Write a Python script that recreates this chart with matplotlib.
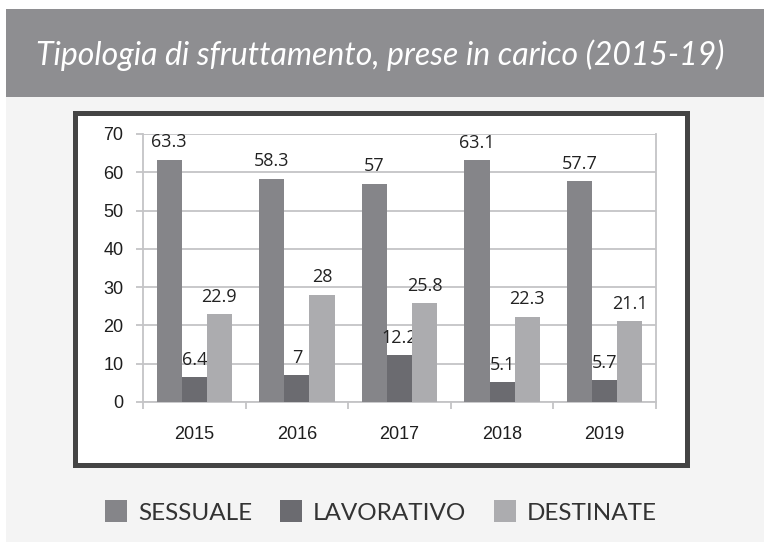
import numpy as np
import matplotlib.pyplot as plt
from matplotlib.patches import Rectangle
from matplotlib.ticker import FixedLocator

# --- Data ---
years = ['2015', '2016', '2017', '2018', '2019']
sessuale = [63.3, 58.3, 57, 63.1, 57.7]
lavorativo = [6.4, 7, 12.2, 5.1, 5.7]
destinate = [22.9, 28, 25.8, 22.3, 21.1]
series_names = ['SESSUALE', 'LAVORATIVO', 'DESTINATE']
series_colors = ['#858589', '#6b6b70', '#acacaf']

W, H = 764, 542


def fx(px):
    return px / W


def fy(py):
    # pixel row from top -> figure fraction from bottom
    return 1 - py / H


fig = plt.figure(figsize=(W / 100, H / 100), dpi=100)
fig.patch.set_facecolor('white')

# --- Background pieces ---
fig.patches.append(Rectangle((fx(6), 0), 1, fy(9), transform=fig.transFigure,
                             facecolor='#f4f4f4', edgecolor='none', zorder=-3))
fig.patches.append(Rectangle((fx(6), fy(97)), 1, fy(9) - fy(97), transform=fig.transFigure,
                             facecolor='#8e8e91', edgecolor='none', zorder=-2))
fig.text(fx(380), fy(55), 'Tipologia di sfruttamento, prese in carico (2015-19)',
         color='white', fontsize=23, style='italic', family='Lato',
         ha='center', va='center')

# chart frame
fig.patches.append(Rectangle((fx(75), fy(465)), fx(687) - fx(75), fy(113) - fy(465),
                             transform=fig.transFigure, facecolor='white',
                             edgecolor='#444444', linewidth=3.6, zorder=-1))

# --- Axes ---
ax = fig.add_axes([fx(143), fy(402), fx(656) - fx(143), fy(134) - fy(402)], zorder=2)
ax.patch.set_alpha(0)

x = np.arange(len(years))
w = 0.245
grid_c = '#c4c4c6'
bars = []
for i, (vals, name, col) in enumerate(zip([sessuale, lavorativo, destinate],
                                          series_names, series_colors)):
    b = ax.bar(x + (i - 1) * w, vals, w, color=col, label=name, zorder=3)
    bars.append(b)
    for xi, v in zip(x + (i - 1) * w, vals):
        ax.annotate(f'{v:g}', (xi, v), xytext=(0, 6), textcoords='offset points',
                    ha='center', va='bottom', fontsize=13, family='Open Sans',
                    color='#222222')

ax.set_xlim(-0.5, len(years) - 0.5)
ax.set_ylim(0, 70)
ax.set_yticks(range(0, 71, 10))
ax.yaxis.grid(True, color=grid_c, linewidth=1.3, zorder=0)
ax.set_axisbelow(True)

ax.set_xticks(x)
ax.set_xticklabels(years)
ax.xaxis.set_minor_locator(FixedLocator(np.arange(-0.5, len(years), 1.0)))
ax.tick_params(axis='x', which='major', length=0, pad=17, labelsize=13)
ax.tick_params(axis='x', which='minor', length=5, width=1.3, color=grid_c, direction='out')
ax.tick_params(axis='y', length=5, width=1.3, color=grid_c, pad=9, labelsize=13)
for lab in ax.get_xticklabels() + ax.get_yticklabels():
    lab.set_family('Liberation Sans')
    lab.set_color('#1e1e1e')

ax.spines['top'].set_visible(False)
for s in ['left', 'bottom', 'right']:
    ax.spines[s].set_color(grid_c)
    ax.spines[s].set_linewidth(1.3)

# --- Legend ---
leg = fig.legend(handles=bars, labels=series_names, loc='center',
                 bbox_to_anchor=(fx(381), fy(512)), ncol=3, frameon=False,
                 prop={'family': 'Lato', 'size': 17.5}, handlelength=0.9,
                 handleheight=1.0, handletextpad=0.45, columnspacing=1.15)
for t in leg.get_texts():
    t.set_color('#333333')

fig.savefig('out.png', dpi=100, facecolor=fig.get_facecolor())
